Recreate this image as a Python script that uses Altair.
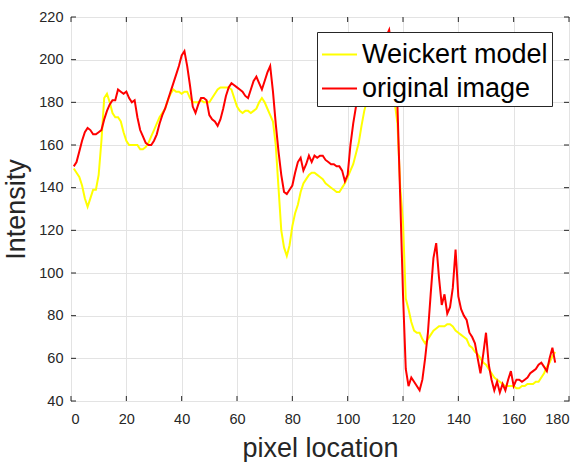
import altair as alt
import pandas as pd

# Intensity profile along one image row: smoothed (Weickert) vs. original
pixel = list(range(1, 176))

weickert = [
    149, 147, 145, 141, 135, 131, 135, 139, 139, 146,
    162, 182, 184, 180, 175, 173, 173, 171, 166, 162,
    160, 160, 160, 160, 158, 158, 159, 161, 164, 167,
    170, 173, 175, 177, 181, 184, 186, 185, 185, 184,
    185, 185, 182, 180, 180, 180, 181, 180, 180, 180,
    182, 184, 186, 187, 187, 187, 187, 186, 182, 178,
    176, 175, 176, 176, 175, 176, 177, 180, 182, 180,
    177, 174, 171, 160, 140, 120, 112, 108, 113, 122,
    128, 132, 138, 142, 144, 146, 147, 147, 146, 145,
    144, 142, 141, 140, 139, 138, 138, 140, 142, 145,
    148, 151, 156, 161, 169, 176, 181, 185, 188, 191,
    193, 194, 194, 192, 189, 185, 180, 170, 140, 124,
    88, 83, 77, 73, 72, 72, 69, 67, 69, 71,
    73, 74, 75, 75, 75, 76, 76, 75, 73, 72,
    71, 70, 69, 66, 65, 63, 62, 60, 58, 57,
    55, 53, 51, 50, 49, 48, 47, 47, 47, 47,
    46, 46, 47, 47, 48, 48, 48, 49, 49, 51,
    53, 56, 58, 61, 63,
]

original = [
    150, 152, 157, 162, 166, 168, 167, 165, 165, 166,
    167, 172, 176, 179, 181, 181, 186, 185, 184, 185,
    182, 180, 181, 173, 167, 164, 161, 160, 160, 162,
    165, 170, 174, 177, 181, 185, 189, 193, 197, 202,
    204, 197, 188, 178, 175, 179, 182, 182, 181, 174,
    172, 171, 169, 172, 177, 183, 187, 189, 188, 187,
    186, 185, 183, 182, 186, 190, 192, 189, 186, 190,
    194, 197, 185, 170, 157, 146, 138, 137, 139, 141,
    147, 152, 154, 148, 151, 155, 152, 155, 154, 155,
    155, 153, 152, 151, 151, 150, 150, 148, 143, 146,
    160, 170, 178, 185, 192, 196, 198, 200, 202, 203,
    205, 206, 208, 211, 214, 205, 192, 178, 135, 90,
    55, 47, 51, 49, 47, 45, 50, 60, 72, 90,
    107, 114, 98, 85, 90, 81, 84, 93, 111, 89,
    83, 80, 78, 72, 70, 67, 60, 53, 62, 72,
    57, 50, 45, 49, 44, 48, 45, 50, 54, 47,
    50, 50, 49, 50, 51, 53, 54, 55, 57, 58,
    56, 54, 60, 65, 58,
]

x_ticks = [0, 20, 40, 60, 80, 100, 120, 140, 160, 180]
y_ticks = [40, 60, 80, 100, 120, 140, 160, 180, 200, 220]

series_names = ["Weickert model", "original image"]
series_colors = ["#ffff00", "#ff0000"]

W, H = 498, 384
FONT = "Liberation Sans"
INK = "#262626"
GRID = "#e3e3e3"
TICK_LEN = 5

df = pd.DataFrame({"pixel": pixel, "weickert": weickert, "original": original})
tx = pd.DataFrame({"t": x_ticks})
ty = pd.DataFrame({"t": y_ticks})

xscale = alt.Scale(domain=[0, 180], nice=False, zero=False)
yscale = alt.Scale(domain=[40, 220], nice=False, zero=False)
cscale = alt.Scale(domain=series_names, range=series_colors)

x_axis = alt.Axis(
    values=x_ticks, title="pixel location", grid=True, gridColor=GRID,
    ticks=False, domain=False, labelFont=FONT, labelFontSize=14.5,
    labelColor=INK, labelPadding=11, titleFont=FONT, titleFontSize=27,
    titleFontWeight="normal", titleColor=INK, titlePadding=10,
)
y_axis = alt.Axis(
    values=y_ticks, title="Intensity", grid=True, gridColor=GRID,
    ticks=False, domain=False, labelFont=FONT, labelFontSize=14.5,
    labelColor=INK, labelPadding=8, titleFont=FONT, titleFontSize=27,
    titleFontWeight="normal", titleColor=INK, titlePadding=8,
)

legend = alt.Legend(
    title=None, orient="none", legendX=246, legendY=15,
    symbolType="stroke", symbolSize=1225, symbolStrokeWidth=2,
    labelFont=FONT, labelFontSize=27, labelColor="black", labelOffset=4,
    labelLimit=0, padding=4, rowPadding=2, strokeColor=INK,
    fillColor="white", direction="vertical",
)

smooth = (
    alt.Chart(df)
    .transform_calculate(series=f"'{series_names[0]}'")
    .mark_line(strokeWidth=2)
    .encode(
        x=alt.X("pixel:Q", scale=xscale, axis=x_axis),
        y=alt.Y("weickert:Q", scale=yscale, axis=y_axis),
        color=alt.Color("series:N", scale=cscale, legend=legend),
    )
)
raw = (
    alt.Chart(df)
    .transform_calculate(series=f"'{series_names[1]}'")
    .mark_line(strokeWidth=2)
    .encode(
        x=alt.X("pixel:Q", scale=xscale, axis=x_axis),
        y=alt.Y("original:Q", scale=yscale, axis=y_axis),
        color=alt.Color("series:N", scale=cscale, legend=legend),
    )
)

# inward tick marks on all four sides of the box
tick_bottom = alt.Chart(tx).mark_rule(color=INK, strokeWidth=1).encode(
    x=alt.X("t:Q", scale=xscale, axis=x_axis),
    y=alt.value(H), y2=alt.value(H - TICK_LEN),
)
tick_top = alt.Chart(tx).mark_rule(color=INK, strokeWidth=1).encode(
    x=alt.X("t:Q", scale=xscale, axis=x_axis),
    y=alt.value(0), y2=alt.value(TICK_LEN),
)
tick_left = alt.Chart(ty).mark_rule(color=INK, strokeWidth=1).encode(
    y=alt.Y("t:Q", scale=yscale, axis=y_axis),
    x=alt.value(0), x2=alt.value(TICK_LEN),
)
tick_right = alt.Chart(ty).mark_rule(color=INK, strokeWidth=1).encode(
    y=alt.Y("t:Q", scale=yscale, axis=y_axis),
    x=alt.value(W), x2=alt.value(W - TICK_LEN),
)

chart = (
    alt.layer(tick_bottom, tick_top, tick_left, tick_right, smooth, raw)
    .properties(
        width=W, height=H,
        padding={"left": 71, "top": 17, "right": 14, "bottom": 61},
        autosize=alt.AutoSizeParams(type="none"),
        background="white",
    )
    .configure_view(stroke=INK, strokeWidth=1)
)

chart.save("out.html", embed_options={"renderer": "svg", "actions": False})
